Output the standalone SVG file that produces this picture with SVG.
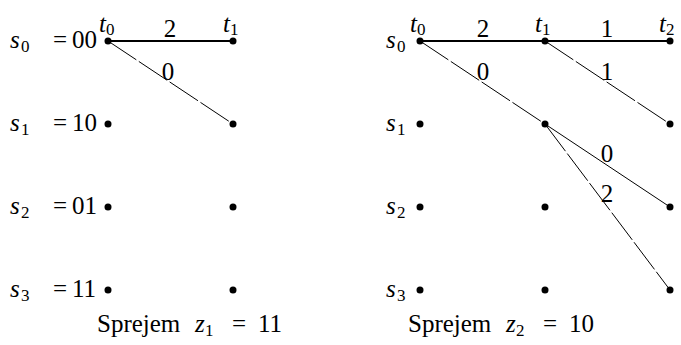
<svg xmlns="http://www.w3.org/2000/svg" width="681" height="345" viewBox="0 0 681 345">
<style>
.i{font-style:italic}
.sub{font-size:17px;font-style:normal}
.thick{stroke:#000;stroke-width:2.2;fill:none}
.thin{stroke:#000;stroke-width:1;fill:none}
.dash{stroke:#000;stroke-width:1;fill:none;stroke-dasharray:34 3}
.dot{fill:#000}
.lbl{text-anchor:middle}
</style>
<rect width="681" height="345" fill="#fff"/>
<g id="connectors">
<line class="thick" x1="108" y1="41" x2="233" y2="41"/>
<line class="dash" x1="108" y1="41" x2="233" y2="124"/>
<line class="thick" x1="420" y1="41" x2="670" y2="41"/>
<line class="dash" x1="420" y1="41" x2="545" y2="124"/>
<line class="dash" x1="545" y1="41" x2="670" y2="124"/>
<line class="thin" x1="545" y1="124" x2="670" y2="207"/>
<line class="dash" x1="545" y1="124" x2="670" y2="290"/>
</g>
<g id="dots">
<g id="L-col0"><circle class="dot" cx="108" cy="41" r="3.5"/><circle class="dot" cx="108" cy="124" r="3.5"/><circle class="dot" cx="108" cy="207" r="3.5"/><circle class="dot" cx="108" cy="290" r="3.5"/></g>
<g id="L-col1"><circle class="dot" cx="233" cy="41" r="3.5"/><circle class="dot" cx="233" cy="124" r="3.5"/><circle class="dot" cx="233" cy="207" r="3.5"/><circle class="dot" cx="233" cy="290" r="3.5"/></g>
<g id="R-col0"><circle class="dot" cx="420" cy="41" r="3.5"/><circle class="dot" cx="420" cy="124" r="3.5"/><circle class="dot" cx="420" cy="207" r="3.5"/><circle class="dot" cx="420" cy="290" r="3.5"/></g>
<g id="R-col1"><circle class="dot" cx="545" cy="41" r="3.5"/><circle class="dot" cx="545" cy="124" r="3.5"/><circle class="dot" cx="545" cy="207" r="3.5"/><circle class="dot" cx="545" cy="290" r="3.5"/></g>
<g id="R-col2"><circle class="dot" cx="670" cy="41" r="3.5"/><circle class="dot" cx="670" cy="124" r="3.5"/><circle class="dot" cx="670" cy="207" r="3.5"/><circle class="dot" cx="670" cy="290" r="3.5"/></g>
</g>
<g id="texts" fill="#000">
<g id="edge-labels">
<text font-family="Liberation Serif" font-size="25" class="lbl" x="170" y="37">2</text>
<text font-family="Liberation Serif" font-size="25" class="lbl" x="168" y="80">0</text>
<text font-family="Liberation Serif" font-size="25" class="lbl" x="483" y="37">2</text>
<text font-family="Liberation Serif" font-size="25" class="lbl" x="607" y="37">1</text>
<text font-family="Liberation Serif" font-size="25" class="lbl" x="483" y="80">0</text>
<text font-family="Liberation Serif" font-size="25" class="lbl" x="607" y="80">1</text>
<text font-family="Liberation Serif" font-size="25" class="lbl" x="607" y="162">0</text>
<text font-family="Liberation Serif" font-size="25" class="lbl" x="607" y="202">2</text>
</g>
<g id="L-times">
<text font-family="Liberation Serif" font-size="25" y="32"><tspan class="i" x="99">t</tspan><tspan class="sub" x="106" dy="3">0</tspan></text>
<text font-family="Liberation Serif" font-size="25" y="32"><tspan class="i" x="223">t</tspan><tspan class="sub" x="230" dy="3">1</tspan></text>
</g>
<g id="L-states">
<text font-family="Liberation Serif" font-size="25" y="48"><tspan class="i" x="10">s</tspan><tspan class="sub" x="21" dy="4">0</tspan><tspan x="53" dy="-4">=</tspan><tspan x="72">00</tspan></text>
<text font-family="Liberation Serif" font-size="25" y="131"><tspan class="i" x="10">s</tspan><tspan class="sub" x="21" dy="4">1</tspan><tspan x="53" dy="-4">=</tspan><tspan x="72">10</tspan></text>
<text font-family="Liberation Serif" font-size="25" y="214"><tspan class="i" x="10">s</tspan><tspan class="sub" x="21" dy="4">2</tspan><tspan x="53" dy="-4">=</tspan><tspan x="72">01</tspan></text>
<text font-family="Liberation Serif" font-size="25" y="297"><tspan class="i" x="10">s</tspan><tspan class="sub" x="21" dy="4">3</tspan><tspan x="53" dy="-4">=</tspan><tspan x="72">11</tspan></text>
</g>
<g id="L-caption">
<text font-family="Liberation Serif" font-size="25" y="332"><tspan x="97">Sprejem</tspan><tspan class="i" x="195">z</tspan><tspan class="sub" x="205" dy="4">1</tspan><tspan x="232" dy="-4">=</tspan><tspan x="258">11</tspan></text>
</g>
<g id="R-times">
<text font-family="Liberation Serif" font-size="25" y="32"><tspan class="i" x="410">t</tspan><tspan class="sub" x="417" dy="3">0</tspan></text>
<text font-family="Liberation Serif" font-size="25" y="32"><tspan class="i" x="535">t</tspan><tspan class="sub" x="542" dy="3">1</tspan></text>
<text font-family="Liberation Serif" font-size="25" y="32"><tspan class="i" x="659">t</tspan><tspan class="sub" x="666" dy="3">2</tspan></text>
</g>
<g id="R-states">
<text font-family="Liberation Serif" font-size="25" y="48"><tspan class="i" x="386">s</tspan><tspan class="sub" x="397" dy="4">0</tspan></text>
<text font-family="Liberation Serif" font-size="25" y="131"><tspan class="i" x="386">s</tspan><tspan class="sub" x="397" dy="4">1</tspan></text>
<text font-family="Liberation Serif" font-size="25" y="214"><tspan class="i" x="386">s</tspan><tspan class="sub" x="397" dy="4">2</tspan></text>
<text font-family="Liberation Serif" font-size="25" y="297"><tspan class="i" x="386">s</tspan><tspan class="sub" x="397" dy="4">3</tspan></text>
</g>
<g id="R-caption">
<text font-family="Liberation Serif" font-size="25" y="332"><tspan x="408">Sprejem</tspan><tspan class="i" x="506">z</tspan><tspan class="sub" x="516" dy="4">2</tspan><tspan x="543" dy="-4">=</tspan><tspan x="569">10</tspan></text>
</g>
</g>
</svg>
